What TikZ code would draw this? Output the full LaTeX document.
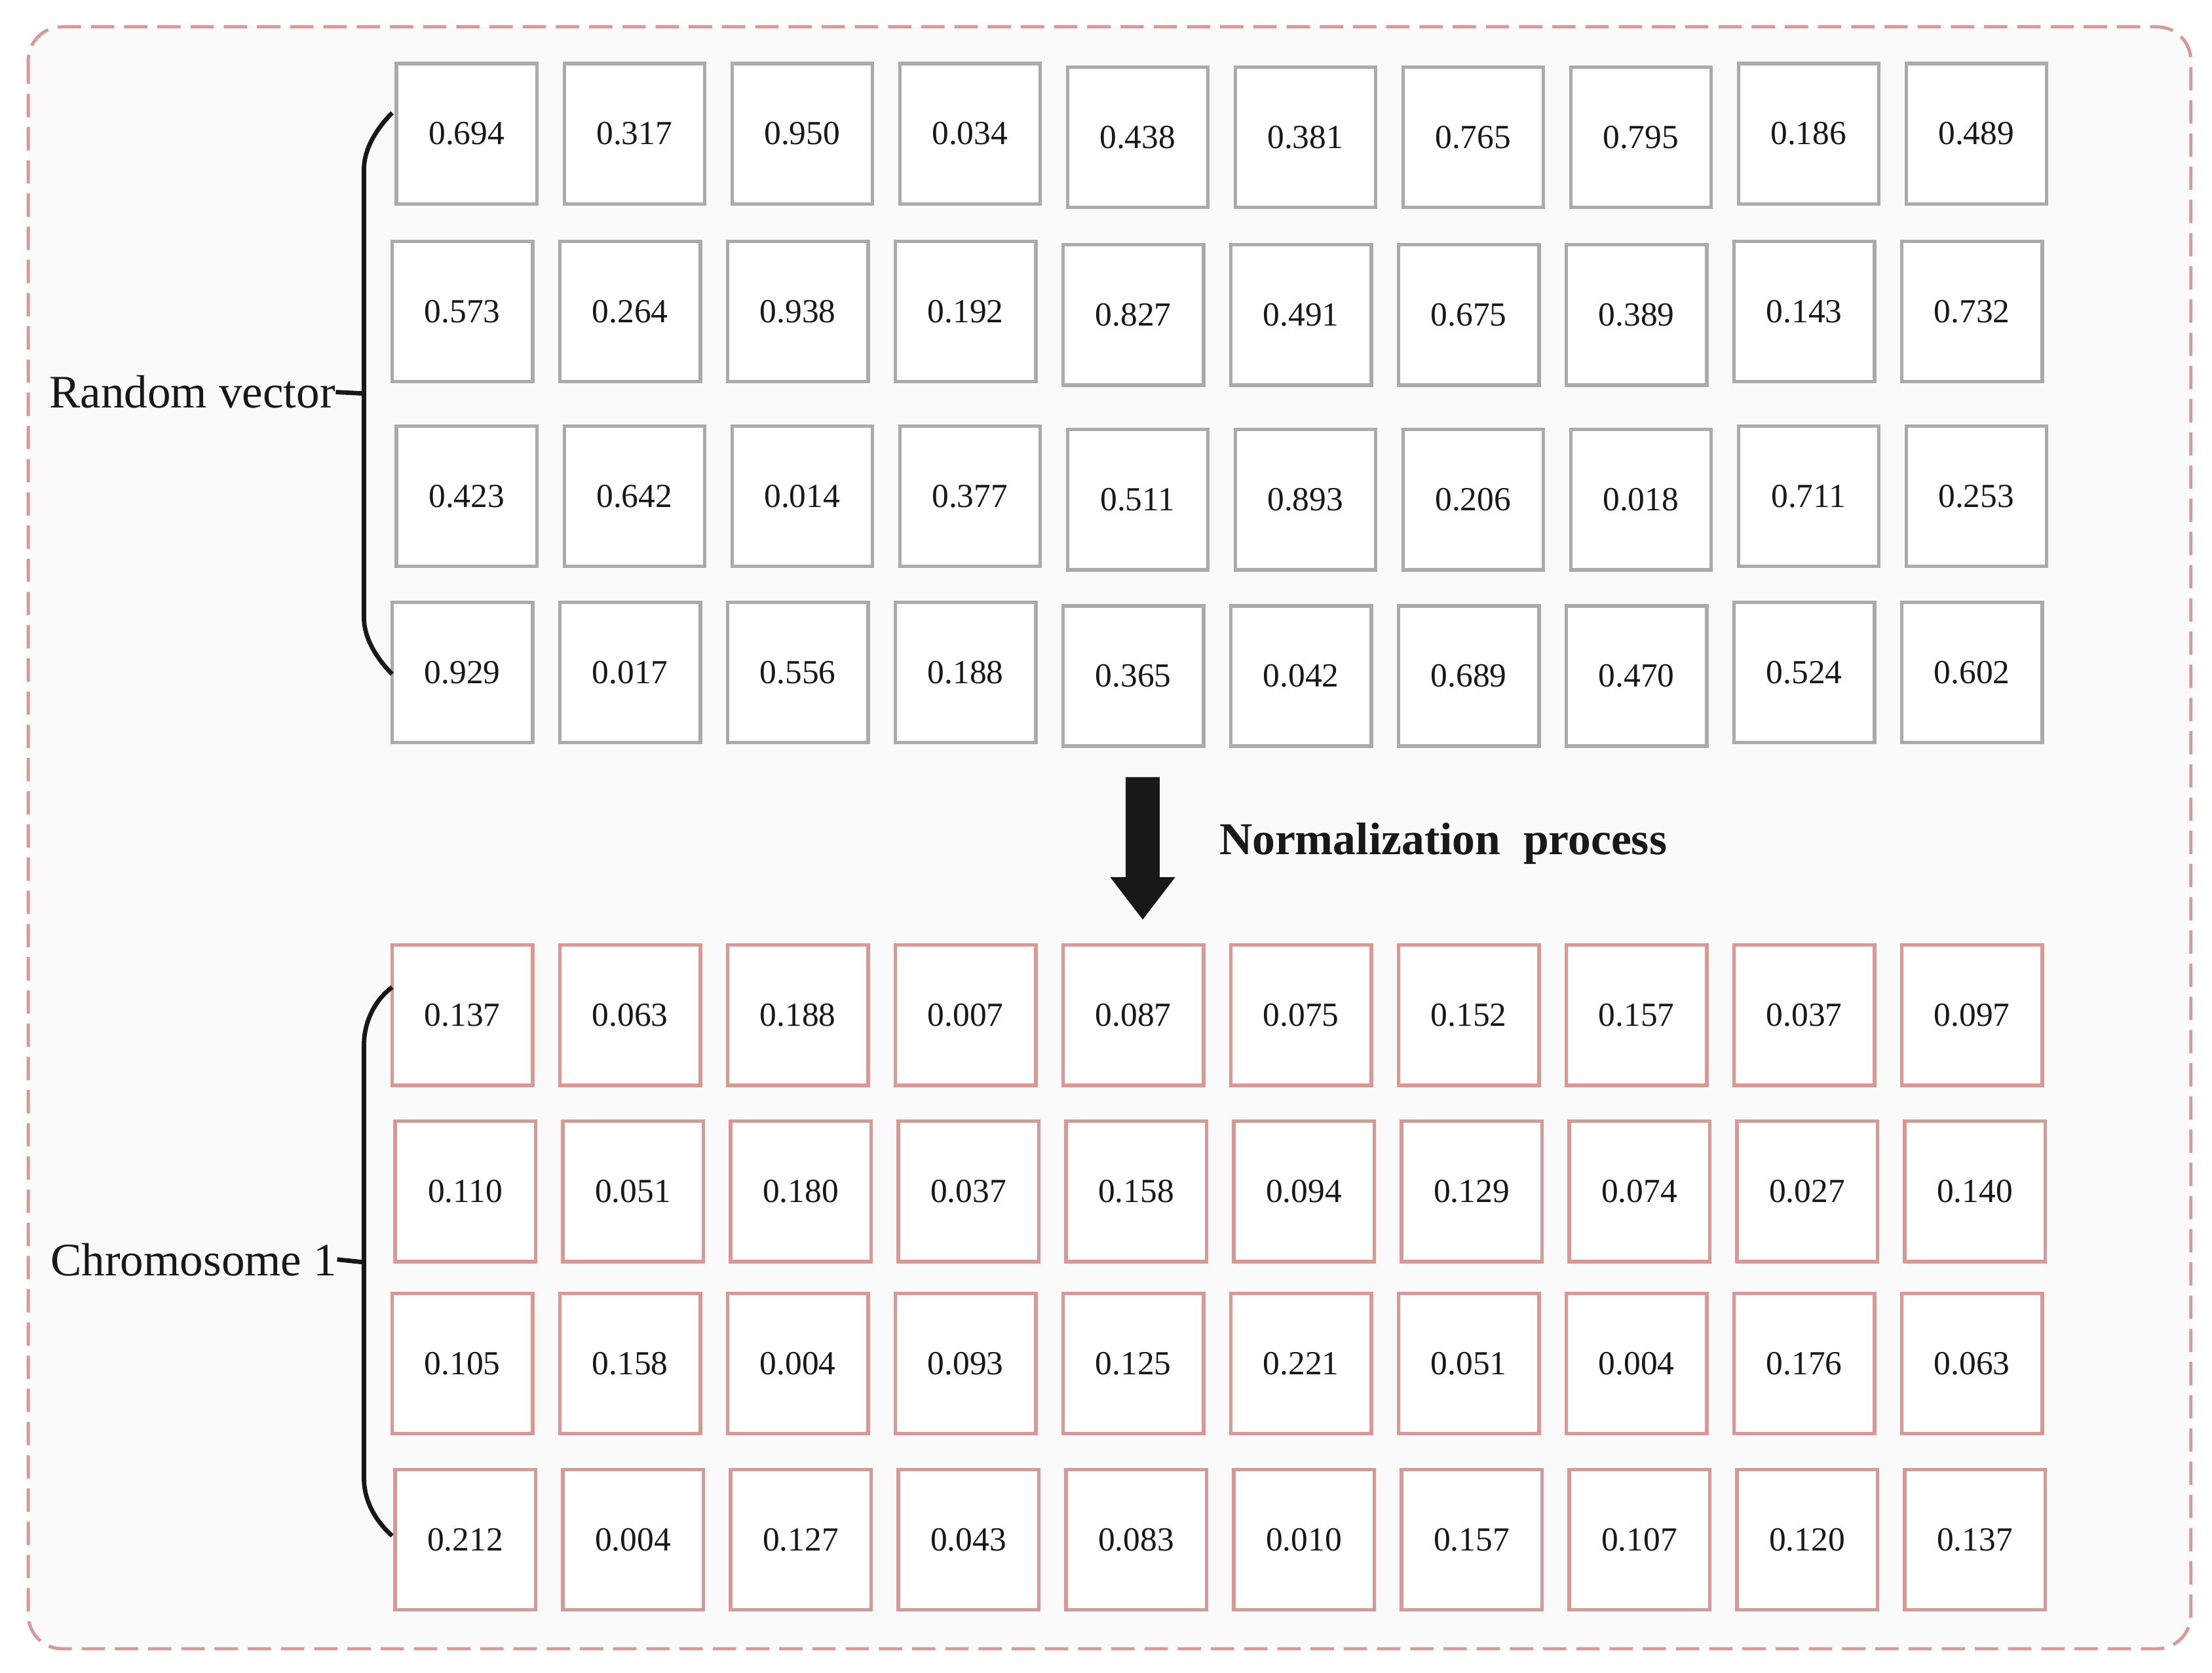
\documentclass[tikz,border=0pt]{standalone}
\usepackage{fontspec}
\setmainfont{Liberation Serif}
\definecolor{cellgray}{RGB}{170,170,170}
\definecolor{cellpink}{RGB}{217,152,148}
\definecolor{bgfill}{RGB}{250,250,250}
\definecolor{inkc}{RGB}{24,24,24}
\begin{document}
\begin{tikzpicture}[x=0.02cm,y=-0.02cm,
  cell/.style={draw, fill=white, line width=1.4pt, minimum width=1.99cm, minimum height=1.99cm,
    inner sep=0pt, font=\fontsize{13.6}{16}\selectfont, text=inkc},
  grayc/.style={cell, draw=cellgray},
  pinkc/.style={cell, draw=cellpink},
  bracestyle/.style={line width=1.8pt, draw=inkc},
  lab/.style={font=\fontsize{18.8}{22}\selectfont, inner sep=0pt, text=inkc},
  framestyle/.style={draw=cellpink, line width=1.3pt, dash pattern=on 9.4pt off 4pt, fill=bgfill, rounded corners=0.48cm}
]
\fill[white] (0,0) rectangle (1568,1186);
\path[use as bounding box] (0,0) rectangle (1568,1186);

% outer dashed frame
\draw[framestyle] (20,19) rectangle (1553,1169);

% top grid (random vector)
\foreach \row/\top/\xo/\vals in {
  1/44/280/{0.694,0.317,0.950,0.034,0.438,0.381,0.765,0.795,0.186,0.489},
  2/170/277/{0.573,0.264,0.938,0.192,0.827,0.491,0.675,0.389,0.143,0.732},
  3/301/280/{0.423,0.642,0.014,0.377,0.511,0.893,0.206,0.018,0.711,0.253},
  4/426/277/{0.929,0.017,0.556,0.188,0.365,0.042,0.689,0.470,0.524,0.602}}{
  \foreach \v [count=\c] in \vals {
    \pgfmathsetmacro{\dy}{and(\c>4,\c<9)*2.5}
    \node[grayc] (t\row-\c) at ({\xo+50.8+(\c-1)*118.9},{\top+50.8+\dy}) {\v};
  }
}

% bottom grid (chromosome 1)
\foreach \row/\top/\xo/\vals in {
  1/669/277/{0.137,0.063,0.188,0.007,0.087,0.075,0.152,0.157,0.037,0.097},
  2/794/279/{0.110,0.051,0.180,0.037,0.158,0.094,0.129,0.074,0.027,0.140},
  3/916/277/{0.105,0.158,0.004,0.093,0.125,0.221,0.051,0.004,0.176,0.063},
  4/1041/279/{0.212,0.004,0.127,0.043,0.083,0.010,0.157,0.107,0.120,0.137}}{
  \foreach \v [count=\c] in \vals {
    \node[pinkc] (b\row-\c) at ({\xo+50.8+(\c-1)*118.9},{\top+50.8}) {\v};
  }
}

% labels
\node[lab, anchor=east] (rv) at (238,278) {Random vector};
\node[lab, anchor=east] (ch) at (239,893) {Chromosome 1};

% top bracket
\coordinate (tbA) at (278,80);
\coordinate (tbB) at (258,120);
\coordinate (tbC) at (258,438);
\coordinate (tbD) at (278,478);
\coordinate (tbM) at (258,279);
\draw[bracestyle] (tbA) .. controls (269,89) and (258,104) .. (tbB) -- (tbC)
  .. controls (258,454) and (269,469) .. (tbD);
\draw[bracestyle] (rv.east) -- (tbM);

% bottom bracket
\coordinate (bbA) at (278,700);
\coordinate (bbB) at (258,741);
\coordinate (bbC) at (258,1048);
\coordinate (bbD) at (278,1089);
\coordinate (bbM) at (258,895);
\draw[bracestyle] (bbA) .. controls (268,707) and (258,722) .. (bbB) -- (bbC)
  .. controls (258,1066) and (268,1080) .. (bbD);
\draw[bracestyle] (ch.east) -- (bbM);

% block arrow
\fill[inkc] (798,551) -- (822,551) -- (822,622) -- (833,622) -- (810,652)
  -- (787,622) -- (798,622) -- cycle;

% arrow label
\node[anchor=base west, inner sep=0pt, text=inkc, font=\fontsize{18.4}{22}\selectfont\bfseries]
  (norm) at (864,606) {Normalization\ \ process};
\end{tikzpicture}
\end{document}
